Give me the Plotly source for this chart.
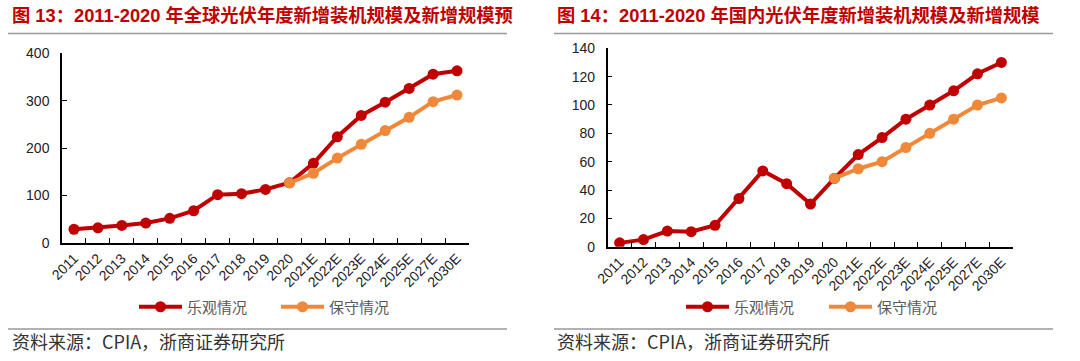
import plotly.graph_objects as go

categories = ["2011", "2012", "2013", "2014", "2015", "2016", "2017", "2018", "2019",
              "2020", "2021E", "2022E", "2023E", "2024E", "2025E", "2027E", "2030E"]

# Global (GW)
global_opt = [29, 32, 37, 42, 52, 68, 102, 104, 113, 127, 168, 224, 269, 297, 326, 356, 363]
global_cons = [None] * 9 + [127, 147, 179, 208, 237, 265, 298, 312]

# China (GW)
china_opt = [2.7, 5, 11, 10.6, 15.1, 34, 53.5, 44.5, 30.1, 48.2, 65, 77, 90, 100, 110, 122, 130]
china_cons = [None] * 9 + [48.2, 55, 60, 70, 80, 90, 100, 105]

series_names = ["乐观情况", "保守情况"]
titles = ["图 13：2011-2020 年全球光伏年度新增装机规模及新增规模预",
          "图 14：2011-2020 年国内光伏年度新增装机规模及新增规模"]
source_text = "资料来源：CPIA，浙商证券研究所"

RED = "#C00000"
ORANGE = "#F0883A"
W, H = 1080, 361

fig = go.Figure()

def add_series(x_ax, y_ax, opt, cons, legend):
    fig.add_trace(go.Scatter(x=categories, y=opt, name=series_names[0], mode="lines+markers",
                             line=dict(color=RED, width=4), marker=dict(color=RED, size=11),
                             xaxis=x_ax, yaxis=y_ax, legend=legend))
    fig.add_trace(go.Scatter(x=categories, y=cons, name=series_names[1], mode="lines+markers",
                             line=dict(color=ORANGE, width=4), marker=dict(color=ORANGE, size=11),
                             xaxis=x_ax, yaxis=y_ax, legend=legend))

add_series("x", "y", global_opt, global_cons, "legend")
add_series("x2", "y2", china_opt, china_cons, "legend2")

tickfont = dict(family="Liberation Sans, Arial, sans-serif", size=14, color="#222222")

def xaxis(domain, anchor):
    return dict(domain=domain, anchor=anchor, type="category", range=[-0.5, 16.5],
                showline=True, linecolor="#000000", linewidth=1.5, automargin=False,
                ticks="inside", tickson="boundaries", ticklen=5, tickcolor="#000000", tickwidth=1.2,
                tickangle=-45, tickfont=tickfont, showgrid=False, zeroline=False, fixedrange=True)

def yaxis(domain, anchor, rng, dtick):
    return dict(domain=domain, anchor=anchor, range=rng, dtick=dtick, automargin=False,
                showline=True, linecolor="#000000", linewidth=1.5,
                ticks="inside", ticklen=5, tickcolor="#000000", tickwidth=1.2,
                tickfont=dict(family="Liberation Sans, Arial, sans-serif", size=14, color="#222222"),
                ticklabelstandoff=8, showgrid=False, zeroline=False, fixedrange=True)

legend_font = dict(family="Noto Sans CJK SC", size=15, color="#595959")

fig.update_layout(
    width=W, height=H,
    margin=dict(l=0, r=0, t=0, b=0, autoexpand=False),
    paper_bgcolor="white", plot_bgcolor="white",
    xaxis=xaxis([62 / W, 469 / W], "y"),
    yaxis=yaxis([(H - 243) / H, (H - 53.3) / H], "x", [0, 400], 100),
    xaxis2=xaxis([607.7 / W, 1013.3 / W], "y2"),
    yaxis2=yaxis([(H - 246.7) / H, (H - 48.3) / H], "x2", [0, 140], 20),
    legend=dict(orientation="h", x=134 / W, y=(H - 307) / H, xanchor="left", yanchor="middle",
                font=legend_font, bgcolor="rgba(0,0,0,0)",
                itemwidth=43, entrywidth=84, entrywidthmode="pixels"),
    legend2=dict(orientation="h", x=681 / W, y=(H - 307) / H, xanchor="left", yanchor="middle",
                 font=legend_font, bgcolor="rgba(0,0,0,0)",
                 itemwidth=43, entrywidth=85, entrywidthmode="pixels"),
    showlegend=True,
)

annotations = []
shapes = []
for i, x0 in enumerate([10, 555]):
    annotations.append(dict(text="<b>" + titles[i] + "</b>", x=x0 / W, y=(H - 15) / H,
                            xref="paper", yref="paper", xanchor="left", yanchor="middle",
                            showarrow=False,
                            font=dict(family="Liberation Sans, Arial, Noto Sans CJK SC", size=18.3, color=RED)))
    annotations.append(dict(text=source_text, x=x0 / W, y=(H - 341) / H,
                            xref="paper", yref="paper", xanchor="left", yanchor="middle",
                            showarrow=False,
                            font=dict(family="Noto Sans CJK SC", size=18, color="#333333")))
for (a, b) in [(8, 507), (554, 1053)]:
    for yy in [33.5, 329]:
        shapes.append(dict(type="line", xref="paper", yref="paper", x0=a / W, x1=b / W,
                           y0=(H - yy) / H, y1=(H - yy) / H, line=dict(color="#999999", width=1.5)))

fig.update_layout(annotations=annotations, shapes=shapes)
fig.write_html("out.html", config={"displayModeBar": False},
               post_script="document.body.style.margin='0';document.body.style.padding='0';")
